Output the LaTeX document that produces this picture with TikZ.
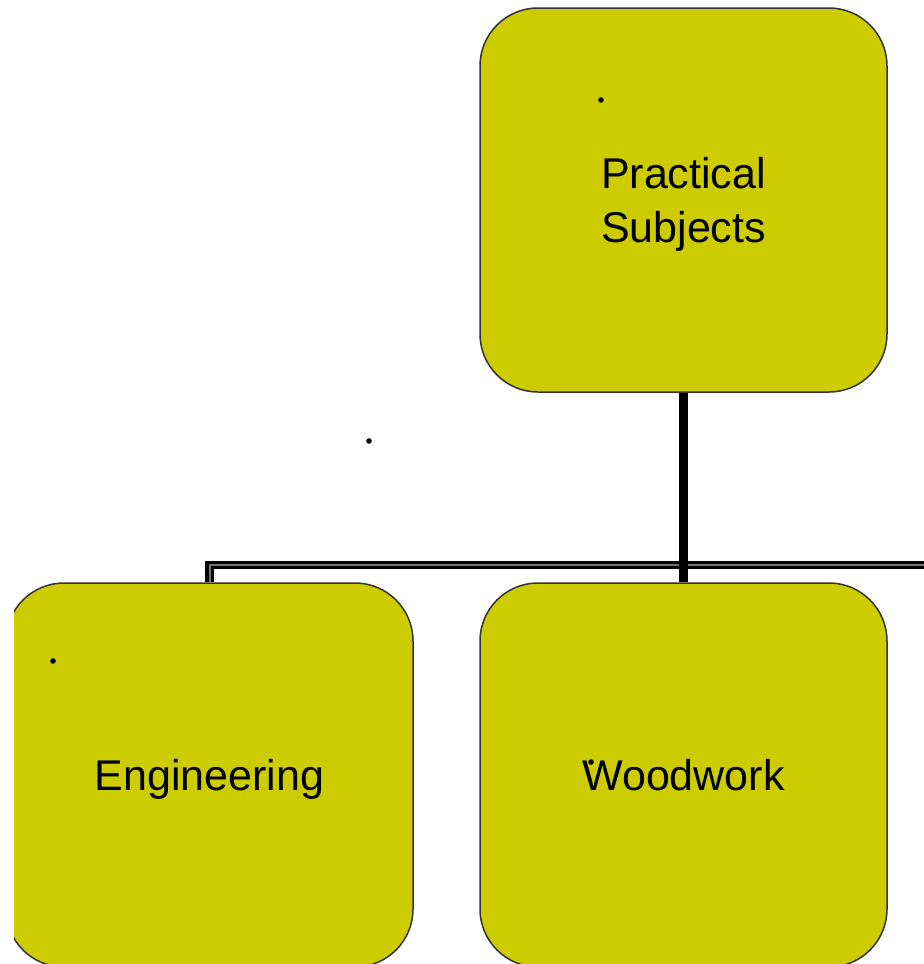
\documentclass[tikz,border=0pt]{standalone}
\usepackage{fontspec}
\setmainfont{Liberation Sans}
\usepackage{xcolor}
\usepackage{tikz}
\definecolor{subjfill}{RGB}{204,204,0}
\tikzset{
  subjbox/.style={draw=black!80,line width=0.75pt,fill=subjfill,rounded corners=29pt,
    minimum width=203.5pt,minimum height=192pt,align=center,inner sep=0pt,
    text depth=0pt,font=\fontsize{21.5}{27}\selectfont},
  stem/.style={line width=4.5pt},
  branch/.style={draw=black,double=black!55,double distance=1pt,line width=1.6pt},
  speck/.style={circle,fill=black,inner sep=0pt,minimum size=2.8pt}
}
\begin{document}
\begin{tikzpicture}[x=0.5pt,y=-0.5pt]
  \useasboundingbox (0,0) rectangle (924,964);
  \clip (14,0) rectangle (924,964);
  \node[subjbox] (practical) at (683.5,200) {Practical\\ Subjects};
  \node[subjbox] (eng) at (209.5,775) {Engineering};
  \node[subjbox] (wood) at (683.5,775) {Woodwork};
  % connectors
  \coordinate (barend) at (940,565);
  \draw[branch] (eng.north) |- (barend);
  \draw[stem] (practical.south) -- (wood.north);
  % stray specks
  \node[speck] (s1) at (601,100) {};
  \node[speck] (s2) at (369,441) {};
  \node[speck] (s3) at (53,661) {};
  \node[speck] (s4) at (591,762) {};
\end{tikzpicture}
\end{document}
